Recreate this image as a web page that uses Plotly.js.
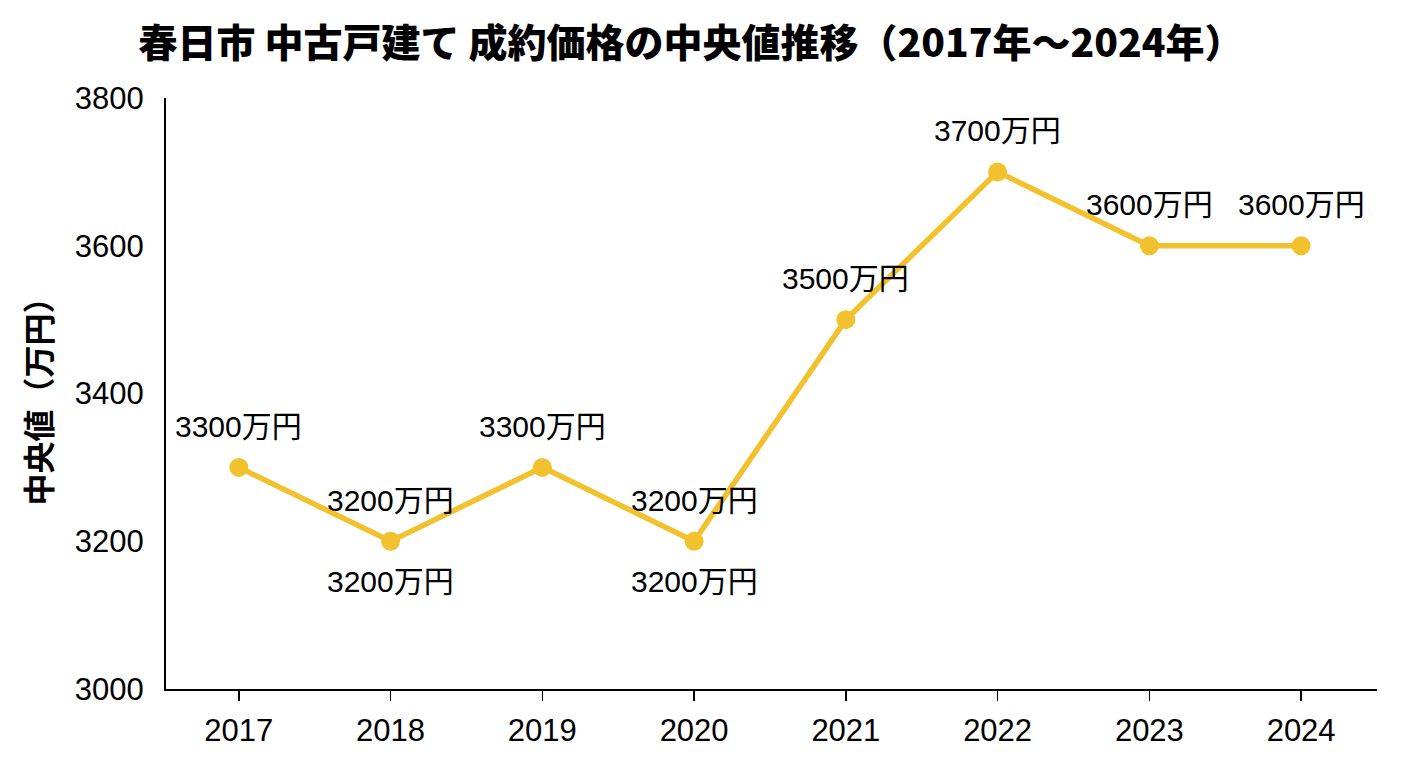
<!DOCTYPE html>
<html>
<head>
<meta charset="utf-8">
<script src="https://cdn.plot.ly/plotly-3.0.1.min.js"></script>
<style>html,body{margin:0;padding:0;background:#fff;}#chart{width:1408px;height:768px;}</style>
</head>
<body>
<div id="chart"></div>
<script>
const years = ['2017','2018','2019','2020','2021','2022','2023','2024'];
const medianPrices = [3300, 3200, 3300, 3200, 3500, 3700, 3600, 3600];
const labelSuffix = '万円';
const extraBelowLabelYears = ['2018','2020'];
const yTickValues = [3000, 3200, 3400, 3600, 3800];

const lineColor = '#F2C12E';
const fontStack = 'Liberation Sans, Arial, Noto Sans CJK JP, sans-serif';
const cjkBold = 'Noto Sans CJK JP, sans-serif';

const trace = {
  x: years,
  y: medianPrices,
  type: 'scatter',
  mode: 'lines+markers',
  line: {color: lineColor, width: 5.5},
  marker: {color: lineColor, size: 19},
  hoverinfo: 'skip',
  showlegend: false
};

const annotations = [];
years.forEach((yr, i) => {
  annotations.push({
    x: i, y: medianPrices[i], xref: 'x', yref: 'y',
    text: medianPrices[i] + labelSuffix,
    showarrow: false, yshift: 41,
    font: {family: fontStack, size: 30, color: '#000'}
  });
  if (extraBelowLabelYears.includes(yr)) {
    annotations.push({
      x: i, y: medianPrices[i], xref: 'x', yref: 'y',
      text: medianPrices[i] + labelSuffix,
      showarrow: false, yshift: -40,
      font: {family: fontStack, size: 30, color: '#000'}
    });
  }
});

const layout = {
  width: 1408, height: 768,
  paper_bgcolor: '#fff', plot_bgcolor: '#fff',
  margin: {l: 166, r: 31, t: 98, b: 79},
  title: {
    text: '春日市 中古戸建て 成約価格の中央値推移（2017年〜2024年）',
    font: {family: cjkBold, size: 39, color: '#000', weight: 900},
    x: 691/1408, xanchor: 'center', xref: 'container',
    y: 1 - 43/768, yref: 'container', yanchor: 'middle'
  },
  xaxis: {
    type: 'category',
    range: [-0.48, 7.5],
    showgrid: false, zeroline: false,
    showline: true, linecolor: '#000', linewidth: 2,
    ticks: 'outside', ticklen: 10, tickwidth: 1.5, tickcolor: '#000',
    ticklabelstandoff: 3,
    tickfont: {family: fontStack, size: 31, color: '#000'},
    fixedrange: true
  },
  yaxis: {
    range: [3000, 3800],
    tickvals: yTickValues,
    showgrid: false, zeroline: false,
    showline: true, linecolor: '#000', linewidth: 2,
    ticks: '', ticklabelstandoff: 14,
    tickfont: {family: fontStack, size: 31, color: '#000'},
    title: {
      text: '<b>中央値（万円）</b>',
      font: {family: cjkBold, size: 32, color: '#000'},
      standoff: 14
    },
    fixedrange: true
  },
  annotations: annotations
};

Plotly.newPlot('chart', [trace], layout, {displayModeBar: false, staticPlot: true});
</script>
</body>
</html>
